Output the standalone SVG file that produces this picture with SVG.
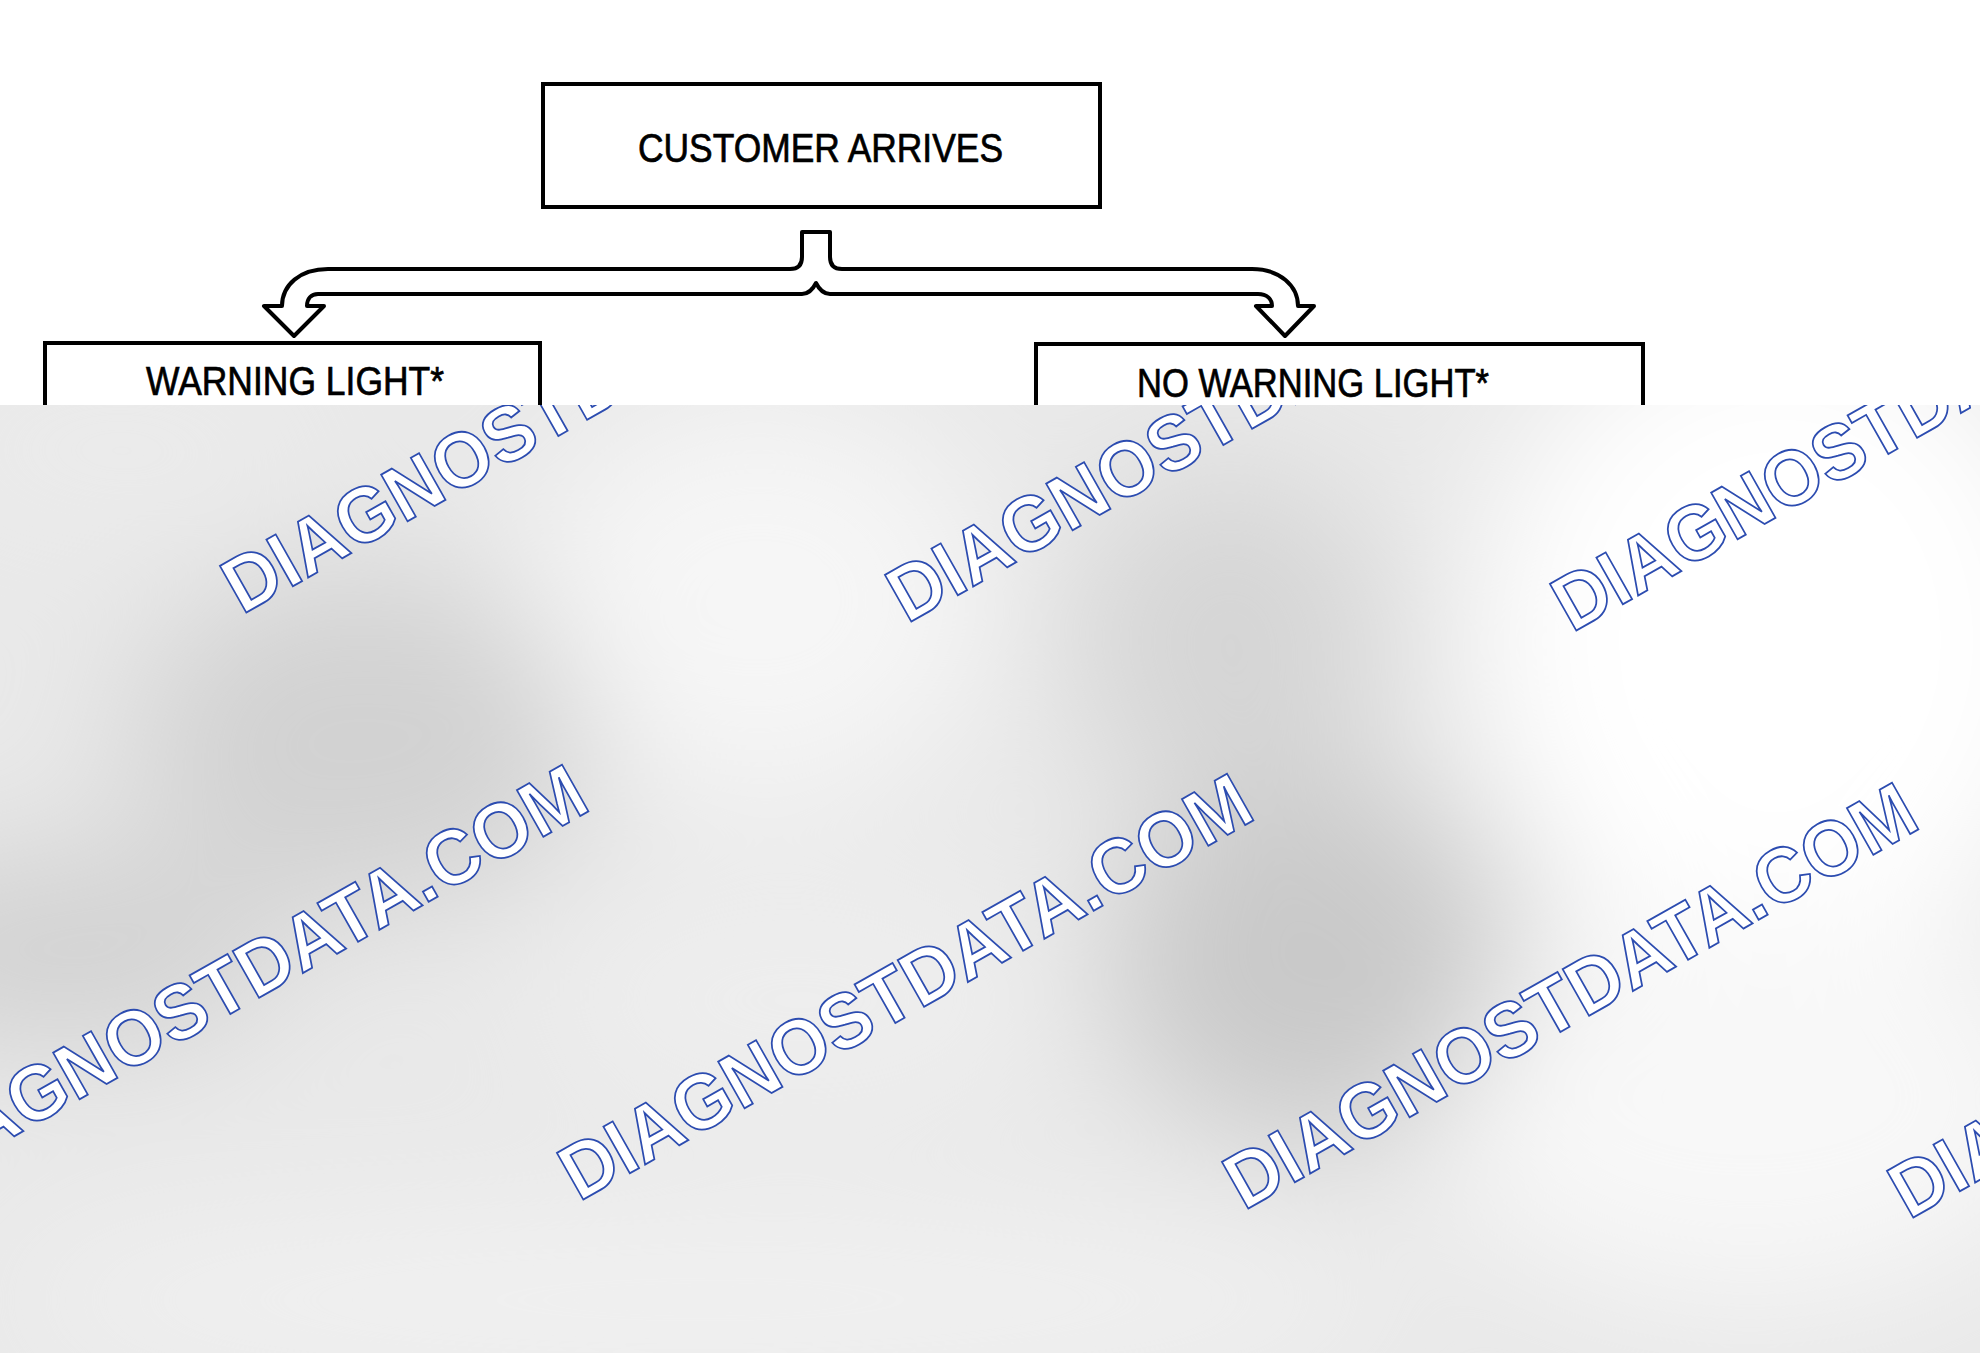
<svg xmlns="http://www.w3.org/2000/svg" width="1980" height="1353" viewBox="0 0 1980 1353">
<defs>
<style>
.box{fill:#fff;stroke:#000;stroke-width:4}
.lbl{font-family:"Liberation Sans",Arial,sans-serif;font-size:40px;fill:#000;stroke:#000;stroke-width:0.7}
.wm{font-family:"Liberation Sans",Arial,sans-serif;font-size:78px;font-weight:bold;fill:#fff;stroke:#2c4cb0;stroke-width:1.8}
</style>
<clipPath id="ov"><rect x="0" y="405" width="1980" height="948"/></clipPath>
<filter id="bl" x="-50%" y="-50%" width="200%" height="200%"><feGaussianBlur stdDeviation="70"/></filter>
</defs>
<rect width="1980" height="1353" fill="#fff"/>
<g id="customer-arrives">
<rect class="box" x="543" y="84" width="557" height="123"/>
<text class="lbl" x="638" y="162" textLength="365" lengthAdjust="spacingAndGlyphs">CUSTOMER ARRIVES</text>
</g>
<g id="warning-light">
<rect class="box" x="45" y="343" width="495" height="200"/>
<text class="lbl" x="146" y="395" textLength="298" lengthAdjust="spacingAndGlyphs">WARNING LIGHT*</text>
</g>
<g id="no-warning-light">
<rect class="box" x="1036" y="344" width="607" height="200"/>
<text class="lbl" x="1137" y="397" textLength="352" lengthAdjust="spacingAndGlyphs">NO WARNING LIGHT*</text>
</g>
<g id="connectors">
<path d="M 802 232 L 830 232 L 830 257 C 830 265 834 269 842 269 L 1252 269 C 1280 269 1298 286 1298 306 L 1314 306 L 1285 336 L 1256 306 L 1272 306 C 1272 299 1267 294 1258 294 L 830 294 C 824 294 819 289 816 283 C 813 289 808 294 802 294 L 318 294 C 311 294 307 299 307 306 L 324 306 L 294 336 L 264 306 L 282 306 C 282 285 300 269 328 269 L 790 269 C 798 269 802 265 802 257 Z" fill="#fff" stroke="#000" stroke-width="4" stroke-linejoin="round"/>
</g>
<g id="overlay" clip-path="url(#ov)">
<rect x="0" y="405" width="1980" height="948" fill="#e9e9e9"/>
<g filter="url(#bl)">
<ellipse cx="760" cy="600" rx="230" ry="200" fill="#f6f6f6"/>
<ellipse cx="1780" cy="640" rx="300" ry="330" fill="#ffffff"/>
<ellipse cx="1750" cy="1100" rx="320" ry="200" fill="#f8f8f8"/>
<ellipse cx="360" cy="740" rx="230" ry="170" fill="#d2d2d2"/>
<ellipse cx="60" cy="950" rx="220" ry="90" fill="#d0d0d0"/>
<ellipse cx="1310" cy="960" rx="200" ry="180" fill="#c9c9c9"/>
<ellipse cx="1230" cy="640" rx="160" ry="170" fill="#d5d5d5"/>
<ellipse cx="800" cy="1000" rx="260" ry="120" fill="#eeeeee"/>
<ellipse cx="700" cy="1300" rx="700" ry="90" fill="#f1f1f1"/>
<ellipse cx="120" cy="450" rx="200" ry="60" fill="#ececec"/>
</g>
<g transform="translate(242 615) rotate(-29.5)"><text class="wm" x="0" y="0" textLength="780" lengthAdjust="spacingAndGlyphs">DIAGNOSTDATA.COM</text></g>
<g transform="translate(907 624) rotate(-29.5)"><text class="wm" x="0" y="0" textLength="780" lengthAdjust="spacingAndGlyphs">DIAGNOSTDATA.COM</text></g>
<g transform="translate(1572 633) rotate(-29.5)"><text class="wm" x="0" y="0" textLength="780" lengthAdjust="spacingAndGlyphs">DIAGNOSTDATA.COM</text></g>
<g transform="translate(-86 1193) rotate(-29.5)"><text class="wm" x="0" y="0" textLength="780" lengthAdjust="spacingAndGlyphs">DIAGNOSTDATA.COM</text></g>
<g transform="translate(579 1202) rotate(-29.5)"><text class="wm" x="0" y="0" textLength="780" lengthAdjust="spacingAndGlyphs">DIAGNOSTDATA.COM</text></g>
<g transform="translate(1244 1211) rotate(-29.5)"><text class="wm" x="0" y="0" textLength="780" lengthAdjust="spacingAndGlyphs">DIAGNOSTDATA.COM</text></g>
<g transform="translate(1909 1220) rotate(-29.5)"><text class="wm" x="0" y="0" textLength="780" lengthAdjust="spacingAndGlyphs">DIAGNOSTDATA.COM</text></g>
</g>
</svg>
